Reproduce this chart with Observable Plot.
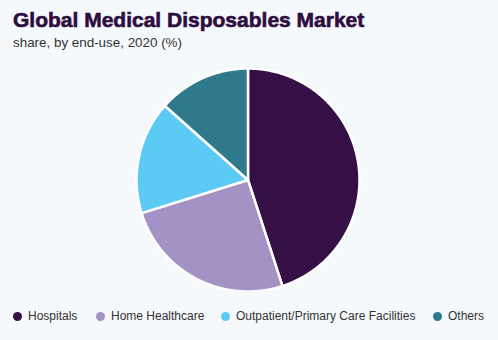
<!DOCTYPE html>
<html><head><meta charset="utf-8">
<script src="https://cdn.jsdelivr.net/npm/d3@7"></script>
<script src="https://cdn.jsdelivr.net/npm/@observablehq/plot@0.6"></script>
<style>
html,body{margin:0;padding:0;background:#f5f9fc;width:498px;height:340px;overflow:hidden;font-family:"Liberation Sans",Arial,sans-serif;}
#title{position:absolute;left:13px;top:8px;font-size:21px;font-weight:bold;color:#2f0c40;white-space:nowrap;-webkit-text-stroke:0.6px #2f0c40;}
#subtitle{position:absolute;left:13px;top:35px;font-size:13.4px;color:#333;white-space:nowrap;}
#chart{position:absolute;left:0;top:68px;}
.item{position:absolute;top:308px;font-size:12px;color:#333;white-space:nowrap;line-height:16px;}
.dot{display:inline-block;width:9px;height:9px;border-radius:50%;vertical-align:-1px;margin-right:6px;}
</style>
</head><body>
<div id="title">Global Medical Disposables Market</div>
<div id="subtitle">share, by end-use, 2020 (%)</div>
<div id="chart"></div>
<div id="legend"></div>
<script>
const categories = ["Hospitals", "Home Healthcare", "Outpatient/Primary Care Facilities", "Others"];
const values = [45.0, 25.2, 16.4, 13.4];
const colors = ["#360f47", "#a592c5", "#5bcbf5", "#2e7a8c"];
const legendLeft = [13, 96, 221, 433];

const total = d3.sum(values);
let acc = 0;
const features = categories.map((name, i) => {
  const a0 = acc / total * 2 * Math.PI;
  acc += values[i];
  const a1 = acc / total * 2 * Math.PI;
  const n = Math.max(2, Math.ceil((a1 - a0) / 0.01));
  const ring = [[0, 0]];
  for (let k = 0; k <= n; k++) {
    const a = a0 + (a1 - a0) * k / n;
    ring.push([Math.sin(a), -Math.cos(a)]);
  }
  ring.push([0, 0]);
  return {type: "Feature", properties: {name, value: values[i]}, geometry: {type: "Polygon", coordinates: [ring]}};
});

const chart = Plot.plot({
  width: 498,
  height: 223,
  marginTop: 0, marginBottom: 0, marginLeft: 0, marginRight: 3,
  projection: {type: "identity", domain: {type: "MultiPoint", coordinates: [[-1, -1], [1, 1]]}},
  color: {domain: categories, range: colors},
  style: {background: "transparent"},
  marks: [
    Plot.geo(features, {fill: d => d.properties.name, stroke: "white", strokeWidth: 2.5, strokeLinejoin: "round"})
  ]
});
document.getElementById("chart").append(chart);

const legend = document.getElementById("legend");
categories.forEach((c, i) => {
  const it = document.createElement("div");
  it.className = "item";
  it.style.left = legendLeft[i] + "px";
  const dot = document.createElement("span");
  dot.className = "dot";
  dot.style.background = colors[i];
  it.append(dot, document.createTextNode(c));
  legend.append(it);
});
</script>
</body></html>
